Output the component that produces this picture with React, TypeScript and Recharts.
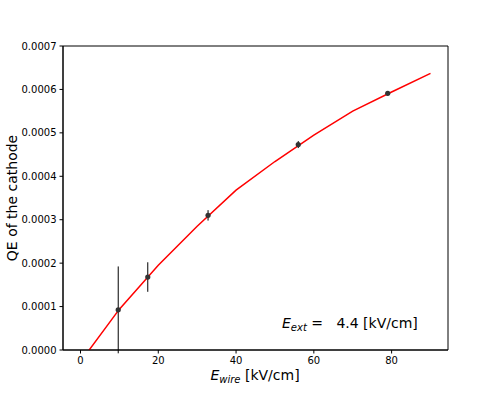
import { ComposedChart, Line, Scatter, ErrorBar, XAxis, YAxis, ReferenceArea, Customized } from 'recharts';

// fit curve (evaluated every 10 kV/cm)
const fitX = [0, 10, 20, 30, 40, 50, 60, 70, 80, 90];
const fitQE = [-0.000027, 0.000094, 0.000195, 0.000285, 0.000368, 0.000434, 0.000495, 0.00055, 0.000594, 0.000637];

// measured points
const ewire = [9.7, 17.3, 32.8, 56.0, 79.0];
const qe = [0.0000924, 0.000168, 0.00031, 0.000473, 0.000591];
const qeErr = [0.0001, 0.000034, 0.000012, 0.000008, 0.000005];

const xTicks = [0, 20, 40, 60, 80];
const yTicks = [0, 0.0001, 0.0002, 0.0003, 0.0004, 0.0005, 0.0006, 0.0007];

const fitData = fitX.map((x, i) => ({ x, fit: fitQE[i] }));
const pointData = ewire.map((x, i) => ({ x, qe: qe[i], err: qeErr[i] }));

const font = 'DejaVu Sans, sans-serif';

function Texts() {
  return (
    <g fontFamily={font} fill="#000">
      <text x={255} y={380} fontSize={14} textAnchor="middle">
        <tspan fontStyle="italic">E</tspan>
        <tspan fontStyle="italic" fontSize={10} dy={3}>wire</tspan>
        <tspan dy={-3}> [kV/cm]</tspan>
      </text>
      <text x={12} y={198} fontSize={14} textAnchor="middle" dominantBaseline="central" transform="rotate(-90 12 198)">
        QE of the cathode
      </text>
      <text x={282} y={328} fontSize={14}>
        <tspan fontStyle="italic">E</tspan>
        <tspan fontStyle="italic" fontSize={10} dy={3}>ext</tspan>
        <tspan dy={-3} xmlSpace="preserve"> =   4.4 [kV/cm]</tspan>
      </text>
    </g>
  );
}

export default function App() {
  return (
    <div style={{ position: 'absolute', left: 0, top: 0, background: '#fff' }}>
      <ComposedChart width={498} height={399} margin={{ top: 46, right: 50, left: 0, bottom: 0 }}>
        <XAxis
          dataKey="x"
          type="number"
          domain={[-4.5, 94.5]}
          ticks={xTicks}
          height={49}
          tick={{ fontSize: 10, fill: '#000', fontFamily: font }}
          tickSize={3.5}
          tickMargin={3}
          stroke="#000"
          allowDataOverflow
        />
        <YAxis
          type="number"
          domain={[0, 0.0007]}
          ticks={yTicks}
          width={63}
          tickFormatter={(v: number) => v.toFixed(4)}
          tick={{ fontSize: 10, fill: '#000', fontFamily: font }}
          tickSize={3.5}
          tickMargin={3}
          stroke="#000"
          allowDataOverflow
        />
        <ReferenceArea x1={-4.5} x2={94.5} y1={0} y2={0.0007} fill="none" stroke="#000" strokeWidth={1} />
        <Line
          data={fitData}
          dataKey="fit"
          type="linear"
          stroke="#ff0000"
          strokeWidth={1.5}
          dot={false}
          isAnimationActive={false}
        />
        <Scatter
          data={pointData}
          dataKey="qe"
          isAnimationActive={false}
          shape={(p: any) => <circle cx={p.cx} cy={p.cy} r={2.6} fill="#333" />}
        >
          <ErrorBar dataKey="err" direction="y" width={0} stroke="#000" strokeWidth={1} />
        </Scatter>
        <Customized component={Texts} />
      </ComposedChart>
    </div>
  );
}
